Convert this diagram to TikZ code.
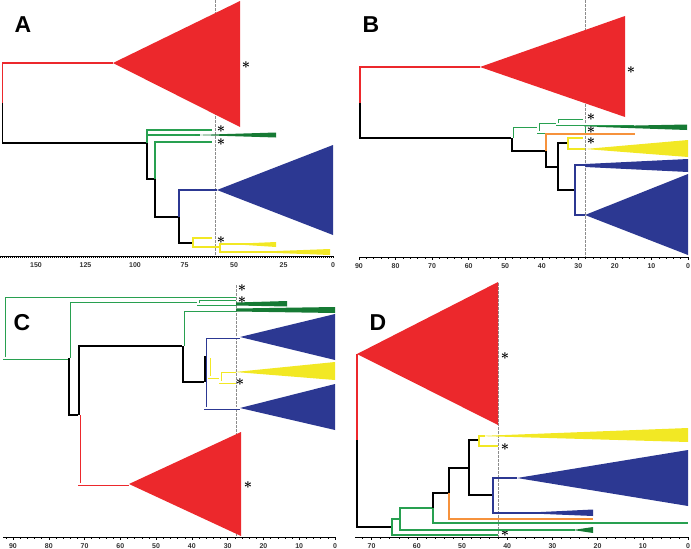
\documentclass[tikz,border=0pt]{standalone}
\usepackage{fontspec}
\setmainfont{Liberation Sans}
\definecolor{tred}{RGB}{236,40,44}
\definecolor{tblue}{RGB}{44,56,146}
\definecolor{tyellow}{RGB}{242,232,36}
\definecolor{tgreen}{RGB}{40,160,80}
\definecolor{tdgreen}{RGB}{22,122,52}
\definecolor{torange}{RGB}{246,146,60}
\newcommand{\tikzStar}[3]{
% #1 = name, #2 = x, #3 = y
\node[asterisk] (#1) at (#2,#3) {$\ast$};
}

\begin{document}
\begin{tikzpicture}[x=1pt, y=-1pt,
    br/.style={line width=1.2pt},
    dbl/.style={line width=3pt, postaction={draw=white, line width=1.1pt}},
    stem/.style={line width=2.2pt},
    cut/.style={gray!90, line width=0.8pt, dash pattern=on 2.5pt off 1.5pt},
    asterisk/.style={inner sep=0pt, font=\fontsize{14}{14}\selectfont\boldmath},
    panel/.style={inner sep=0pt, font=\fontsize{23}{23}\selectfont\bfseries},
    agelabel/.style={inner sep=0pt, font=\fontsize{7}{7}\selectfont\bfseries, text=black!80}]

    \useasboundingbox (0,0) rectangle (691,549);

    % ---------------- panel A ----------------
    \draw[cut] (215,0) -- (215,256);
    \node[panel] (labA) at (23,25) {A};

    \fill[tred] (113,63) -- (240,1) -- (240,127) -- cycle;
    \draw[br, tred] (2.5,103) -- (2.5,63) -- (113,63);
    \draw[br] (2.5,103) -- (2.5,143) -- (147,143);
    \tikzStar{sA1}{246}{65}

    % green clade
    \draw[br, tgreen] (147,143) -- (147,130) -- (212,130);
    \draw[br, tgreen] (148,135) -- (200,135);
    \fill[tdgreen] (195,135) -- (276,132.5) -- (276,137.5) -- cycle;
    \tikzStar{sA2}{221}{129}
    \draw[br] (147,143) -- (147,179) -- (155,179);
    \draw[br, tgreen] (155,179) -- (155,142) -- (212,142);
    \tikzStar{sA3}{221}{142}
    \draw[br] (155,179) -- (155,217) -- (179,217);

    % blue clade
    \draw[br, tblue] (179,217) -- (179,190) -- (217,190);
    \fill[tblue] (217,190) -- (333,145) -- (333,235) -- cycle;
    \draw[br] (179,217) -- (179,243) -- (193,243);

    % yellow clade
    \draw[br, tyellow] (212,238) -- (193,238) -- (193,247) -- (220,247);
    \tikzStar{sA4}{221}{240}
    \draw[br, tyellow] (276,244) -- (220,244) -- (220,252) -- (330,252);
    \fill[tyellow] (230,244) -- (276,242) -- (276,247) -- cycle;
    \fill[tyellow] (250,252) -- (330,249) -- (330,255) -- cycle;

    % time axis
    \draw[line width=0.6pt] (0,256) -- (333,256);
    \foreach \t in {0,...,168}
        \draw[line width=0.4pt] ({333-1.98*\t},256) -- ++(0,1.5);
    \foreach \t in {0,25,...,150}
        \node[agelabel] at ({333-1.98*\t},265) {\t};

    % ---------------- panel B ----------------
    \draw[cut] (585,0) -- (585,257);
    \node[panel] (labB) at (371,25) {B};

    \fill[tred] (480,67) -- (625,16) -- (625,117) -- cycle;
    \draw[br, tred] (360,103) -- (360,67) -- (480,67);
    \draw[br] (360,103) -- (360,138) -- (512,138);
    \tikzStar{sB1}{631}{70}

    % green clade
    \draw[dbl, tgreen] (512,138) -- (512,126) -- (538,126);
    \draw[dbl, tgreen] (557,122) -- (538,122) -- (538,132) -- (584,132) -- (584,127);
    \draw[dbl, tgreen] (583,118) -- (557,118) -- (557,124) -- (634,124);
    \fill[tdgreen] (584,126.5) -- (687,124.5) -- (687,130) -- cycle;
    \tikzStar{sB2}{591}{117}
    \tikzStar{sB3}{591}{130}
    \draw[br] (512,138) -- (512,151) -- (546,151);

    % orange branch
    \draw[br, torange] (546,151) -- (546,134) -- (635,134);
    \draw[br] (546,151) -- (546,167) -- (558,167);

    % yellow clade
    \draw[br] (558,167) -- (558,143) -- (568,143);
    \draw[br, tyellow] (583,138) -- (568,138) -- (568,149) -- (585,149);
    \fill[tyellow] (585,149) -- (688,140) -- (688,157) -- cycle;
    \tikzStar{sB4}{591}{141}

    % blue clade
    \draw[br] (558,167) -- (558,190) -- (575,190);
    \draw[br, tblue] (585,165) -- (575,165) -- (575,215) -- (585,215);
    \fill[tblue] (585,164) -- (688,159) -- (688,172) -- (585,167) -- cycle;
    \fill[tblue] (585,215) -- (688,174) -- (688,255) -- cycle;

    % time axis
    \draw[line width=0.6pt] (359,257) -- (688,257);
    \foreach \t in {0,2,...,90}
        \draw[line width=0.4pt] ({688-3.656*\t},257) -- ++(0,1.5);
    \foreach \t in {0,10,...,90}{
        \draw[line width=0.5pt] ({688-3.656*\t},257) -- ++(0,2.5);
        \node[agelabel] at ({688-3.656*\t},266) {\t};
    }

    % ---------------- panel C ----------------
    \draw[cut] (236,285) -- (236,537);
    \node[panel] (labC) at (22,323) {C};

    % outer green lineages
    \draw[dbl, tgreen] (236,296) -- (4,296) -- (4,358) -- (69,358);
    \tikzStar{sC1}{242}{288}
    \draw[dbl, tgreen] (69,358) -- (69,301) -- (198,301);
    \draw[dbl, tgreen] (236,299) -- (198,299) -- (198,304) -- (236,304);
    \fill[tdgreen] (236,302.5) -- (287,301) -- (287,306.5) -- (236,305.5) -- cycle;
    \tikzStar{sC2}{242}{300}

    % backbone
    \draw[stem] (69,358) -- (69,415) -- (79,415);
    \draw[stem] (79,415) -- (79,346) -- (183,346);
    \draw[stem] (183,346) -- (183,382) -- (205,382);

    % red clade
    \fill[tred] (129,484) -- (241,432) -- (241,536) -- cycle;
    \draw[dbl, tred] (79,415) -- (79,484) -- (129,484);
    \tikzStar{sC3}{248}{485}

    % inner green lineage
    \draw[dbl, tgreen] (183,346) -- (183,310) -- (236,310);
    \fill[tdgreen] (236,308.5) -- (335,307) -- (335,313) -- (236,311.5) -- cycle;

    % blue clades
    \draw[dbl, tblue] (240,337) -- (205,337) -- (205,408) -- (240,408);
    \fill[tblue] (240,337) -- (335,314) -- (335,360) -- cycle;
    \fill[tblue] (240,408) -- (335,384) -- (335,430) -- cycle;
    \draw[stem] (205,356) -- (205,382);

    % yellow clade
    \draw[dbl, tyellow] (209,358) -- (209,377) -- (220,377);
    \draw[dbl, tyellow] (236,371) -- (220,371) -- (220,382) -- (236,382);
    \fill[tyellow] (235,372) -- (335,362) -- (335,380) -- cycle;
    \tikzStar{sC4}{240}{382}

    % time axis
    \draw[line width=0.6pt] (3,537) -- (335,537);
    \foreach \t in {0,2,...,92}
        \draw[line width=0.4pt] ({335-3.578*\t},537) -- ++(0,1.5);
    \foreach \t in {0,10,...,90}{
        \draw[line width=0.5pt] ({335-3.578*\t},537) -- ++(0,2.5);
        \node[agelabel] at ({335-3.578*\t},546) {\t};
    }

    % ---------------- panel D ----------------
    \draw[cut] (498,283) -- (498,537);
    \node[panel] (labD) at (378,323) {D};

    \fill[tred] (357,354) -- (498,282) -- (498,425) -- cycle;
    \draw[br, tred] (357,440) -- (357,354);
    \draw[br] (357,440) -- (357,527) -- (392,527);
    \tikzStar{sD1}{505}{356}

    % green lineages
    \draw[br, tgreen] (400,519) -- (392,519) -- (392,535) -- (498,535);
    \tikzStar{sD2}{505}{533}
    \draw[br, tgreen] (433,508) -- (400,508) -- (400,530) -- (575,530);
    \fill[tdgreen] (573,530) -- (593,527) -- (593,533) -- cycle;
    \draw[br, tgreen] (433,508) -- (433,523) -- (688,523);
    \draw[br] (433,508) -- (433,493) -- (449,493);

    % orange branch
    \draw[br, torange] (449,493) -- (449,519) -- (593,519);
    \draw[br] (449,493) -- (449,468) -- (469,468);

    % yellow clade
    \draw[br] (469,468) -- (469,440) -- (479,440);
    \draw[br, tyellow] (485,436) -- (479,436) -- (479,446) -- (498,446);
    \fill[tyellow] (479,436) -- (688,428) -- (688,442) -- cycle;
    \tikzStar{sD3}{505}{447}

    % blue clade
    \draw[br] (469,468) -- (469,495) -- (493,495);
    \draw[br, tblue] (517,478) -- (493,478) -- (493,513) -- (593,513);
    \fill[tblue] (517,478) -- (688,450) -- (688,506) -- cycle;
    \fill[tblue] (520,513) -- (593,509.5) -- (593,516) -- cycle;

    % time axis
    \draw[line width=0.6pt] (355,537) -- (688,537);
    \foreach \t in {0,2,...,72}
        \draw[line width=0.4pt] ({688-4.52*\t},537) -- ++(0,1.5);
    \foreach \t in {0,10,...,70}{
        \draw[line width=0.5pt] ({688-4.52*\t},537) -- ++(0,2.5);
        \node[agelabel] at ({688-4.52*\t},546) {\t};
    }

\end{tikzpicture}
\end{document}
